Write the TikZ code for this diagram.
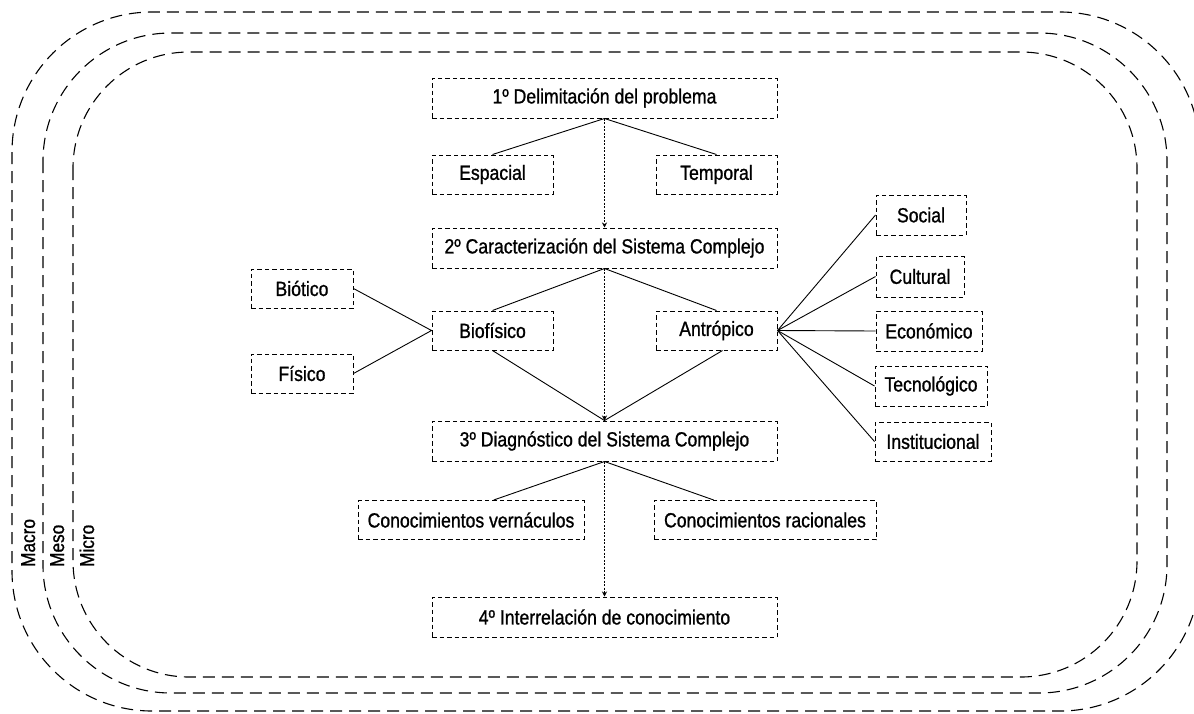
\documentclass[tikz,border=0pt]{standalone}
\usepackage{fontspec}
\setmainfont{Liberation Sans}[FakeStretch=0.86,FakeBold=1.0]
\usetikzlibrary{arrows.meta,calc}
\begin{document}
\begin{tikzpicture}[x=1pt,y=-1pt,
  box/.style={draw, dash pattern=on 4.5pt off 3pt, line width=1pt, inner sep=0pt,
    font=\fontsize{20.5}{22}\selectfont},
  con/.style={line width=0.9pt},
  flow/.style={line width=0.8pt, dash pattern=on 2pt off 1.5pt, -{Stealth[length=5pt,width=5pt]}},
  ring/.style={dash pattern=on 12pt off 7pt, line width=1.1pt},
  lvl/.style={rotate=90, font=\fontsize{20}{22}\selectfont, inner sep=0pt, anchor=base west}]
\useasboundingbox (0,0) rectangle (1194,713);
\begin{scope}
  \clip (0,0) rectangle (1194,713);
  \draw[ring, rounded corners=140pt] (12,12) rectangle (1200,711);
  \draw[ring, rounded corners=128pt] (43,33) rectangle (1167,693);
  \draw[ring, rounded corners=116pt] (73,52) rectangle (1137,677);
\end{scope}
\node[lvl] (macro) at (35,567) {Macro};
\node[lvl] (meso) at (64,567) {Meso};
\node[lvl] (micro) at (94,567) {Micro};

\node[box, minimum width=345pt, minimum height=40pt] (d1) at (604.5,98) {1º Delimitación del problema};
\node[box, minimum width=121pt, minimum height=39pt] (esp) at (492.5,174.5) {Espacial};
\node[box, minimum width=121pt, minimum height=39pt] (tem) at (716.5,174.5) {Temporal};
\node[box, minimum width=345pt, minimum height=40pt] (d2) at (604.5,248) {2º Caracterización del Sistema Complejo};
\node[box, minimum width=102pt, minimum height=39pt] (bio) at (302,288.5) {Biótico};
\node[box, minimum width=102pt, minimum height=39pt] (fis) at (302,373.5) {Físico};
\node[box, minimum width=121pt, minimum height=39pt] (biof) at (492.5,330.5) {Biofísico};
\node[box, minimum width=121pt, minimum height=39pt] (antr) at (716.5,330.5) {Antrópico};
\node[box, minimum width=90pt, minimum height=40pt] (soc) at (921,215) {Social};
\node[box, minimum width=88pt, minimum height=41pt] (cul) at (920,276.5) {Cultural};
\node[box, minimum width=106pt, minimum height=40pt] (eco) at (929,331) {Económico};
\node[box, minimum width=112pt, minimum height=40pt] (tec) at (931,386) {Tecnológico};
\node[box, minimum width=116pt, minimum height=39pt] (ins) at (933,441.5) {Institucional};
\node[box, minimum width=345pt, minimum height=40pt] (d3) at (604.5,441) {3º Diagnóstico del Sistema Complejo};
\node[box, minimum width=226pt, minimum height=39pt] (ver) at (471,520) {Conocimientos vernáculos};
\node[box, minimum width=222pt, minimum height=39pt] (rac) at (765,520) {Conocimientos racionales};
\node[box, minimum width=345pt, minimum height=40pt] (d4) at (604.5,617) {4º Interrelación de conocimiento};

\draw[con] (esp.north) -- (d1.south) -- (tem.north);
\draw[flow] (d1.south) -- (d2.north);
\draw[con] (biof.north) -- (d2.south) -- (antr.north);
\draw[flow] (d2.south) -- (d3.north);
\draw[con] (biof.south) -- (d3.north) -- ([xshift=6pt]antr.south);
\draw[con] (bio.east) -- (biof.west) -- (fis.east);
\foreach \t in {soc,cul,eco,tec,ins} \draw[con] (antr.east) -- (\t.west);
\draw[con] ($(ver.north west)!0.6!(ver.north east)$) -- (d3.south) -- ($(rac.north west)!0.27!(rac.north east)$);
\draw[flow] (d3.south) -- (d4.north);
\end{tikzpicture}
\end{document}
